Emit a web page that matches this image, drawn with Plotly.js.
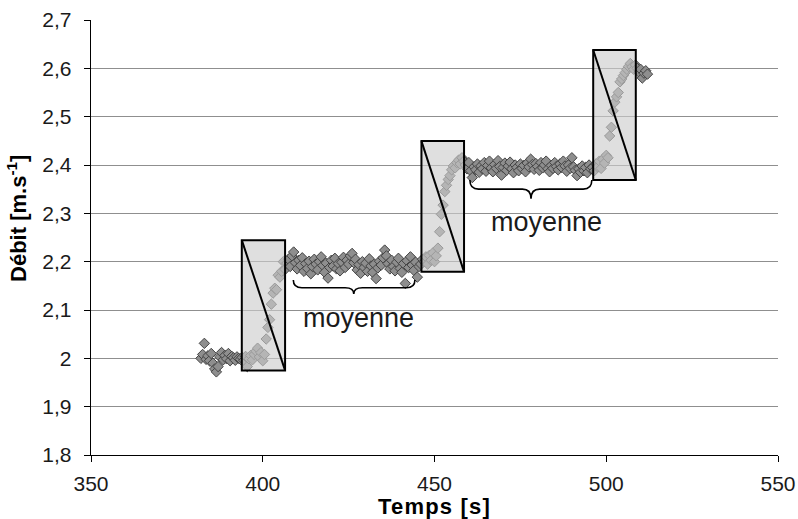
<!DOCTYPE html>
<html>
<head>
<meta charset="utf-8">
<script src="https://cdn.plot.ly/plotly-3.0.1.min.js"></script>
<style>
html,body{margin:0;padding:0;background:#fff;}
#chart{width:798px;height:519px;}
#chart .xtitle{letter-spacing:1.2px;}
</style>
</head>
<body>
<div id="chart"></div>
<script>
// Sampled time [s]
var temps = [
382.0,382.5,383.0,383.5,384.0,384.5,385.0,385.5,386.0,386.5,387.0,387.5,388.0,388.5,389.0,389.5,390.0,390.5,391.0,391.5,392.0,392.5,393.0,393.5,
394.0,394.5,395.0,395.5,396.0,396.5,397.0,397.5,398.0,398.5,399.0,399.5,400.0,400.5,401.0,401.5,402.0,402.5,403.0,403.5,404.0,404.5,405.0,405.5,406.0,406.5,
407.0,407.5,408.0,408.5,409.0,409.5,410.0,410.5,411.0,411.5,412.0,412.5,413.0,413.5,414.0,414.5,415.0,415.5,416.0,416.5,
417.0,417.5,418.0,418.5,419.0,419.5,420.0,420.5,421.0,421.5,422.0,422.5,423.0,423.5,424.0,424.5,425.0,425.5,426.0,426.5,
427.0,427.5,428.0,428.5,429.0,429.5,430.0,430.5,431.0,431.5,432.0,432.5,433.0,433.5,434.0,434.5,435.0,435.5,436.0,436.5,
437.0,437.5,438.0,438.5,439.0,439.5,440.0,440.5,441.0,441.5,442.0,442.5,443.0,443.5,444.0,444.5,445.0,445.5,
446.0,446.5,447.0,447.5,448.0,448.5,449.0,449.5,450.0,450.5,451.0,451.5,452.0,452.5,453.0,453.5,454.0,454.5,455.0,455.5,456.0,456.5,457.0,457.5,458.0,458.5,
459.0,459.5,460.0,460.5,461.0,461.5,462.0,462.5,463.0,463.5,464.0,464.5,465.0,465.5,466.0,466.5,467.0,467.5,468.0,468.5,
469.0,469.5,470.0,470.5,471.0,471.5,472.0,472.5,473.0,473.5,474.0,474.5,475.0,475.5,476.0,476.5,477.0,477.5,478.0,478.5,
479.0,479.5,480.0,480.5,481.0,481.5,482.0,482.5,483.0,483.5,484.0,484.5,485.0,485.5,486.0,486.5,487.0,487.5,488.0,488.5,
489.0,489.5,490.0,490.5,491.0,491.5,492.0,492.5,493.0,493.5,494.0,494.5,495.0,495.5,
496.0,496.5,497.0,497.5,498.0,498.5,499.0,499.5,500.0,500.5,501.0,501.5,502.0,502.5,503.0,503.5,504.0,504.5,505.0,505.5,506.0,506.5,507.0,507.5,508.0,508.5,
509.0,509.5,510.0,510.5,511.0,511.5,512.0
];
// Flow rate
var debit = [
2.000,2.008,2.031,1.998,2.005,1.995,2.010,1.990,1.978,1.972,1.983,2.003,2.012,1.997,2.006,1.999,2.010,1.995,2.004,2.001,1.996,2.003,2.000,1.998,
2.002,1.996,2.004,1.983,1.999,2.006,1.997,2.008,2.015,2.021,2.003,2.012,1.995,2.008,2.040,2.064,2.080,2.112,2.135,2.145,2.142,2.172,2.168,2.180,2.200,2.184,
2.197,2.205,2.190,2.212,2.220,2.198,2.185,2.203,2.192,2.208,2.180,2.196,2.186,2.201,2.175,2.190,2.205,2.195,2.183,2.200,
2.210,2.192,2.178,2.197,2.166,2.188,2.203,2.191,2.207,2.185,2.196,2.181,2.199,2.209,2.188,2.203,2.195,2.212,2.217,2.198,
2.205,2.183,2.194,2.176,2.200,2.188,2.197,2.180,2.206,2.191,2.178,2.195,2.165,2.187,2.201,2.193,2.208,2.224,2.212,2.196,
2.185,2.203,2.190,2.181,2.199,2.207,2.186,2.178,2.196,2.155,2.202,2.188,2.210,2.193,2.182,2.199,2.168,2.190,
2.195,2.205,2.200,2.210,2.195,2.213,2.203,2.218,2.200,2.212,2.228,2.262,2.298,2.317,2.345,2.358,2.370,2.378,2.390,2.398,2.394,2.405,2.410,2.402,2.415,2.408,
2.400,2.392,2.405,2.388,2.374,2.396,2.390,2.402,2.385,2.398,2.392,2.405,2.387,2.399,2.408,2.394,2.386,2.401,2.393,2.409,
2.397,2.379,2.395,2.404,2.389,2.398,2.406,2.392,2.384,2.400,2.395,2.388,2.402,2.393,2.399,2.386,2.404,2.396,2.412,2.401,
2.391,2.403,2.397,2.389,2.405,2.394,2.400,2.408,2.392,2.386,2.399,2.393,2.405,2.397,2.390,2.402,2.395,2.408,2.398,2.387,
2.400,2.393,2.415,2.396,2.389,2.378,2.392,2.385,2.398,2.388,2.395,2.384,2.400,2.392,
2.395,2.388,2.402,2.396,2.408,2.393,2.412,2.404,2.420,2.415,2.460,2.478,2.512,2.530,2.541,2.550,2.572,2.578,2.585,2.591,2.598,2.604,2.610,2.603,2.598,2.607,
2.600,2.592,2.598,2.580,2.590,2.595,2.588
];
// Transition boxes (time start, time end, flow low, flow high)
var boxT0 = [393.9, 446.2, 496.2];
var boxT1 = [406.5, 458.6, 508.6];
var boxV0 = [1.975, 2.179, 2.369];
var boxV1 = [2.2445, 2.4495, 2.638];
// Braces marking averaging windows
var braceT0 = [408.9, 460.3];
var braceT1 = [444.3, 495.8];
var braceTm = [426.5, 478.1];
var braceVend = [2.162, 2.369];
var braceVbar = [2.146, 2.350];
var braceVtip = [2.133, 2.330];
var labelText = ["moyenne", "moyenne"];
var labelT = [428.0, 482.6];
var labelV = [2.083, 2.282];
var xTitle = "Temps [s]";
var yTitle = "Débit [m.s<sup>-1</sup>]";

var shapes = [];
for (var i = 0; i < boxT0.length; i++) {
  shapes.push({type:'rect', xref:'x', yref:'y', x0:boxT0[i], x1:boxT1[i], y0:boxV0[i], y1:boxV1[i],
    fillcolor:'rgba(205,205,205,0.63)', line:{color:'#000', width:2}, layer:'above'});
  shapes.push({type:'line', xref:'x', yref:'y', x0:boxT0[i], x1:boxT1[i], y0:boxV1[i], y1:boxV0[i],
    line:{color:'#000', width:2}, layer:'above'});
}
for (var j = 0; j < braceT0.length; j++) {
  var r = 2.5;
  var a = braceT0[j], b = braceT1[j], m = braceTm[j];
  var ye = braceVend[j], yb = braceVbar[j], yt = braceVtip[j];
  var p = 'M ' + a + ',' + ye +
    ' Q ' + a + ',' + yb + ' ' + (a + r) + ',' + yb +
    ' L ' + (m - r) + ',' + yb +
    ' Q ' + m + ',' + yb + ' ' + m + ',' + yt +
    ' Q ' + m + ',' + yb + ' ' + (m + r) + ',' + yb +
    ' L ' + (b - r) + ',' + yb +
    ' Q ' + b + ',' + yb + ' ' + b + ',' + ye;
  shapes.push({type:'path', xref:'x', yref:'y', path:p, line:{color:'#000', width:1.6}, layer:'above'});
}
var annotations = [];
for (var k = 0; k < labelText.length; k++) {
  annotations.push({x:labelT[k], y:labelV[k], xref:'x', yref:'y', text:labelText[k], showarrow:false,
    font:{family:'Liberation Sans, Arial, sans-serif', size:27, color:'#1a1a1a'}});
}
var titleFont = {family:'Liberation Sans, Arial, sans-serif', size:22, color:'#000'};
// y-axis title (rotated text placed to follow the reference's vertical position)
annotations.push({xref:'paper', yref:'y', x:-0.108, y:2.29, text:'<b>' + yTitle + '</b>', textangle:-90,
  showarrow:false, xanchor:'center', yanchor:'middle', font:titleFont});

var trace = {
  x: temps, y: debit, type:'scatter', mode:'markers',
  marker:{symbol:'diamond', size:8, color:'#8e8e8e', line:{color:'#444', width:1}},
  hoverinfo:'x+y'
};

var layout = {
  width:798, height:519,
  margin:{l:91, r:20, t:20, b:64},
  paper_bgcolor:'#fff', plot_bgcolor:'#fff',
  separators:', ',
  showlegend:false,
  font:{family:'Liberation Sans, Arial, sans-serif', size:16, color:'#1a1a1a'},
  xaxis:{range:[350,550], dtick:50, tick0:350, showgrid:false, zeroline:false,
    showline:true, linecolor:'#000', linewidth:1.3, ticks:'outside', ticklen:6, tickcolor:'#000',
    tickfont:{size:21}, ticklabelstandoff:3,
    title:{text:'<b>' + xTitle + '</b>', font:titleFont, standoff:4}},
  yaxis:{range:[1.8,2.7], dtick:0.1, tick0:1.8, showgrid:true, gridcolor:'#8f8f8f', gridwidth:1, zeroline:false,
    showline:true, linecolor:'#000', linewidth:1.3, ticks:'outside', ticklen:6, tickcolor:'#000',
    tickfont:{size:21}, ticklabelstandoff:8},
  shapes: shapes,
  annotations: annotations
};

Plotly.newPlot('chart', [trace], layout, {displayModeBar:false, staticPlot:true});
</script>
</body>
</html>
